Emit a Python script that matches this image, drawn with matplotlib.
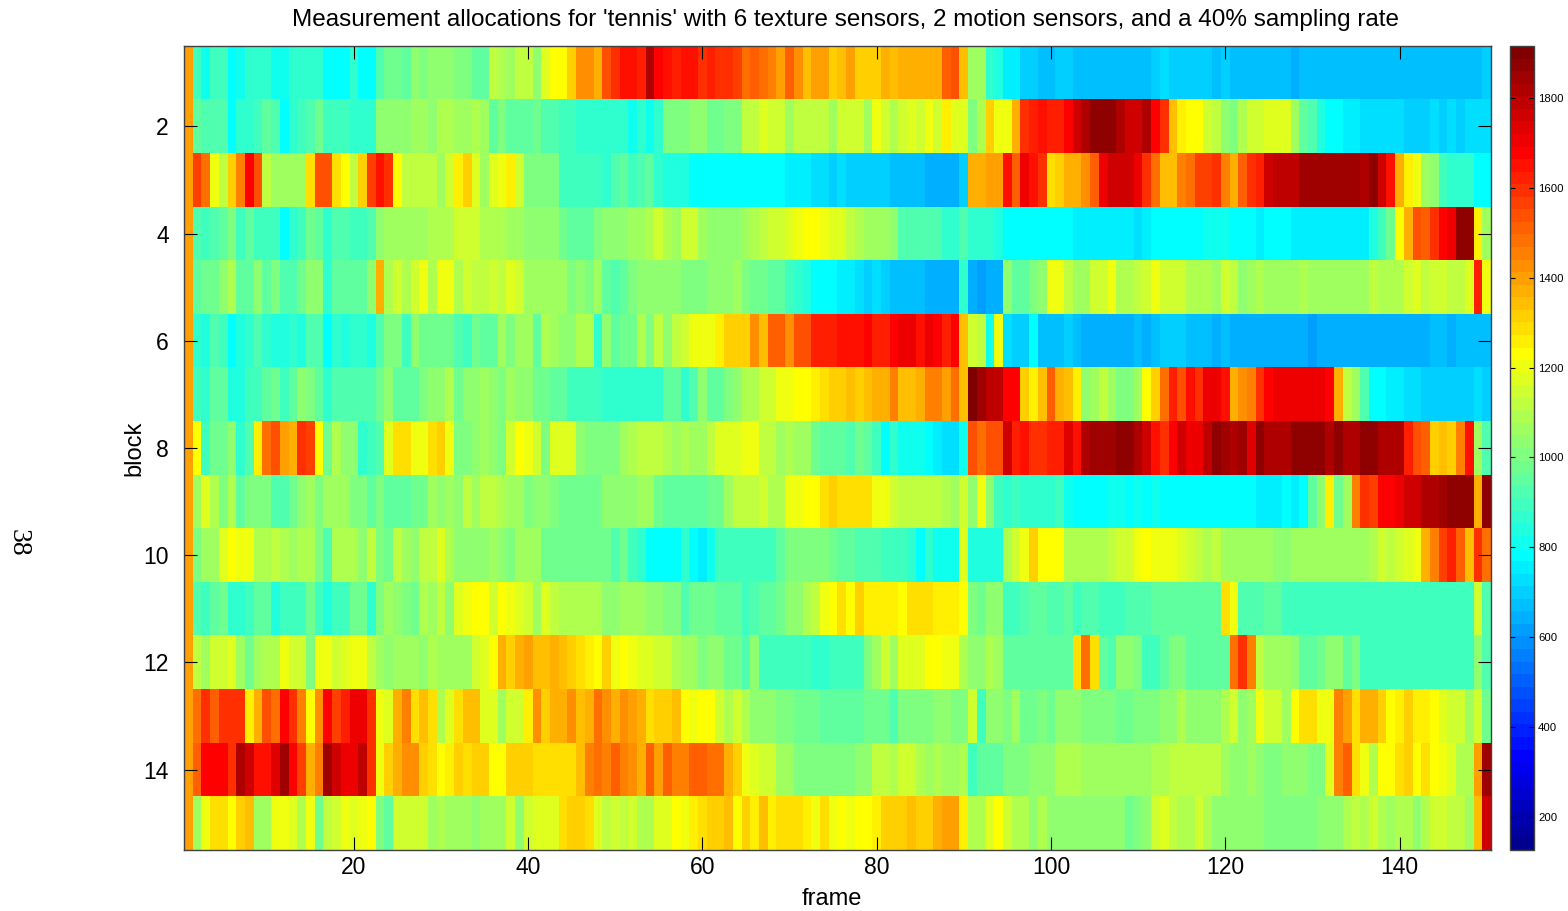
import numpy as np
import matplotlib
matplotlib.use("Agg")
import matplotlib.pyplot as plt
from matplotlib.colors import ListedColormap

plt.rcParams["font.family"] = ["Liberation Sans", "DejaVu Sans"]

block_01 = [1486,900,810,900,900,790,810,860,860,860,
            820,820,860,860,880,880,790,800,800,860,
            790,790,950,990,1000,980,1060,1010,1040,1040,
            1040,1020,1020,970,980,1170,1130,1080,1160,1160,
            1060,1230,1300,1300,1380,1510,1510,1480,1650,1720,
            1760,1760,1730,1860,1790,1760,1740,1760,1760,1720,
            1750,1720,1700,1680,1580,1620,1580,1530,1500,1610,
            1510,1430,1500,1500,1400,1430,1500,1390,1370,1370,
            1460,1430,1460,1460,1480,1480,1480,1590,1640,1440,
            1110,1110,860,830,760,760,720,720,690,690,
            700,700,670,670,670,670,670,670,670,670,
            670,700,730,710,710,710,710,710,680,700,
            670,670,670,670,670,670,670,650,670,670,
            670,670,670,670,670,670,670,670,670,670,
            670,670,670,670,670,670,670,670,670,710]
block_02 = [1486,980,930,950,950,800,880,880,920,960,
            930,800,880,920,950,1000,900,900,900,880,
            880,880,1060,1060,1060,1060,1100,1100,1070,1130,
            1130,1100,1090,1120,1080,960,1030,960,960,960,
            1000,950,950,900,900,860,860,860,860,860,
            860,820,860,820,870,1020,1020,1020,1050,1050,
            1000,1000,1020,1020,1160,1170,1230,1190,1190,1110,
            1170,1170,1170,1170,1100,1200,1200,1200,1110,1240,
            1200,1120,1200,1230,1180,1260,1180,1310,1220,1220,
            1010,1130,1370,1250,1250,1480,1720,1730,1760,1740,
            1740,1790,1840,1860,1890,1890,1890,1860,1840,1840,
            1870,1790,1720,1420,1320,1290,1290,1200,1160,1060,
            1030,1120,1190,1190,1230,1230,1230,1100,960,930,
            840,790,790,760,760,740,740,740,740,740,
            710,710,710,730,700,735,700,740,740,740]
block_03 = [1486,1660,1570,1260,1150,1380,1550,1790,1640,1170,
            1100,1080,1100,1100,1340,1630,1630,1350,1290,1150,
            1390,1690,1760,1700,1300,1170,1160,1160,1160,1090,
            1180,1320,1380,1230,1090,1230,1270,1320,1190,1020,
            1020,1020,1020,920,920,920,920,920,880,940,
            960,900,930,970,860,830,830,830,795,795,
            795,795,795,795,780,780,780,780,780,770,
            750,760,740,740,720,730,700,700,700,700,
            700,690,690,670,670,660,660,660,660,720,
            1450,1450,1500,1500,1760,1620,1800,1760,1700,1350,
            1400,1450,1450,1510,1620,1800,1840,1840,1840,1810,
            1700,1560,1410,1430,1550,1570,1670,1690,1720,1530,
            1470,1590,1710,1730,1830,1850,1850,1850,1880,1880,
            1880,1880,1880,1880,1880,1870,1890,1840,1770,1480,
            1320,1250,1090,1060,920,870,870,870,790,790]
block_04 = [1486,950,900,950,980,1010,900,960,900,920,
            920,800,880,900,1000,980,860,940,940,900,
            900,950,1040,1100,1090,1090,1090,1110,1130,1130,
            1130,1180,1180,1180,1130,1140,1120,1080,1080,1040,
            1040,1040,1040,1000,970,970,970,1010,1060,1060,
            1040,1090,1110,1140,1180,1120,1100,1180,1190,1090,
            1040,1040,1040,1070,1100,1130,1160,1200,1200,1210,
            1260,1290,1280,1260,1210,1210,1160,1120,1100,1100,
            1080,1040,950,950,950,950,950,880,880,930,
            860,860,880,830,790,790,790,790,790,790,
            790,790,770,770,770,770,770,770,770,740,
            770,790,800,800,800,800,800,810,820,810,
            790,790,790,770,790,790,790,760,760,760,
            750,750,750,750,750,750,830,900,1000,1290,
            1470,1640,1600,1710,1780,1810,1890,1890,1330,1100]
block_05 = [1486,980,1000,1000,1070,1120,980,980,1040,980,
            1020,930,950,1000,1050,1050,880,960,970,970,
            970,1060,1450,1130,1190,1130,1200,1250,1130,1240,
            1240,1130,1180,1160,1160,1200,1160,1220,1180,1110,
            1110,1110,1110,1110,1010,1060,1010,1100,960,930,
            970,1020,1050,1050,1050,1050,1070,1010,1010,1010,
            1050,1050,1070,1100,1030,990,990,960,960,920,
            880,830,800,780,790,750,750,740,720,730,
            700,670,690,670,670,650,650,650,650,860,
            640,620,640,640,1040,970,970,1010,1070,1250,
            1270,1150,1090,1090,1200,1200,1240,1130,1130,1160,
            1200,1240,1190,1180,1180,1140,1140,1140,1100,1190,
            1160,1060,1090,1120,1110,1110,1080,1080,1120,1090,
            1090,1090,1090,1090,1090,1110,1160,1140,1140,1140,
            1180,1210,1170,1200,1200,1170,1170,1220,1730,1240]
block_06 = [1486,880,850,950,900,790,850,880,930,860,
            830,830,860,840,940,940,790,880,830,880,
            880,840,950,1010,1010,900,1060,1000,1000,1000,
            1000,940,900,1000,960,970,1100,1030,1080,1080,
            970,1130,1090,1040,1040,1120,1120,880,1070,980,
            1000,1000,1120,1010,1170,1050,1150,1200,1240,1240,
            1240,1310,1370,1390,1390,1510,1440,1590,1620,1510,
            1650,1650,1730,1750,1750,1760,1760,1760,1780,1730,
            1750,1790,1800,1800,1760,1810,1780,1730,1780,1430,
            1190,1170,820,1270,740,710,700,790,670,670,
            680,710,680,650,650,650,650,650,650,670,
            650,670,700,700,700,680,680,680,650,670,
            650,650,650,650,650,650,650,650,650,630,
            650,650,650,650,650,650,650,650,650,650,
            650,650,650,670,670,650,670,670,690,690]
block_07 = [1486,910,870,960,960,850,850,920,920,960,
            1000,900,960,1070,1030,960,860,950,930,930,
            930,930,990,1040,980,980,980,1020,1060,1060,
            1130,1000,1070,1070,1100,1050,1030,1080,1050,1050,
            990,990,960,960,920,920,920,920,880,880,
            880,880,860,860,880,960,960,880,930,1070,
            970,970,1030,1060,1130,1130,1180,1200,1250,1250,
            1300,1300,1330,1360,1390,1390,1440,1400,1430,1480,
            1480,1530,1420,1420,1480,1530,1530,1500,1570,1440,
            1915,1880,1850,1850,1790,1790,1370,1310,1430,1590,
            1470,1420,1320,1060,1110,1150,1110,1030,1030,1100,
            1280,1380,1580,1730,1640,1760,1720,1810,1810,1760,
            1480,1510,1540,1700,1780,1810,1810,1810,1810,1810,
            1800,1790,1480,1170,1090,950,790,790,760,760,
            740,740,710,710,710,710,710,710,730,720]
block_08 = [1486,1290,920,1000,1000,1070,880,940,1320,1580,
            1640,1500,1480,1700,1680,1290,1000,1120,1060,1060,
            870,920,940,1230,1340,1340,1260,1240,1350,1390,
            1270,1020,1020,1070,1110,1060,1030,1180,1290,1260,
            1200,1030,1230,1230,1230,1060,1030,1020,1020,1020,
            1090,1120,1150,1150,1150,1130,1100,1120,1090,1090,
            1150,1220,1210,1210,1240,1240,1160,1160,1090,1120,
            1100,1110,990,960,960,960,930,990,970,910,
            790,880,820,805,805,780,760,740,740,820,
            1640,1580,1630,1630,1830,1740,1770,1700,1700,1730,
            1750,1820,1760,1860,1880,1880,1880,1900,1900,1860,
            1830,1770,1720,1790,1830,1810,1810,1850,1900,1880,
            1860,1880,1820,1890,1870,1870,1870,1890,1890,1890,
            1890,1870,1890,1870,1870,1900,1900,1870,1870,1870,
            1740,1640,1590,1370,1420,1380,1550,1770,1090,940]
block_09 = [1486,1090,1210,1130,1030,1120,960,1010,1010,1010,
            940,940,990,1050,1100,1030,1080,1080,1080,1010,
            1010,980,1030,980,960,980,1000,1000,1080,1040,
            1090,1040,1160,1110,1170,1170,1130,1090,1090,1020,
            1060,1060,1030,1000,1000,1000,1000,1000,1050,1050,
            1060,1060,1080,1080,1000,970,970,970,970,970,
            1000,1000,1080,1170,1150,1150,1180,1130,1130,1240,
            1260,1300,1290,1340,1390,1340,1340,1340,1340,1270,
            1270,1190,1160,1160,1160,1160,1160,1130,1090,1200,
            1060,1270,1070,920,880,920,860,860,860,860,
            900,820,800,790,800,800,810,810,800,810,
            800,820,800,800,790,790,790,790,790,780,
            790,790,790,770,770,770,790,770,790,970,
            1060,1310,990,1090,1530,1720,1680,1790,1790,1800,
            1840,1840,1860,1860,1880,1900,1900,1900,1480,1900]
block_10 = [1486,1020,1100,1100,1230,1280,1240,1250,1120,1120,
            1160,1120,1080,1130,1130,1020,950,1120,1130,1130,
            1060,1160,1020,1000,1160,1110,1040,1160,1170,1210,
            1130,1060,1060,1060,1060,1100,1060,1030,1080,1080,
            1080,990,990,990,990,990,990,990,990,930,
            990,900,870,780,780,780,780,860,790,770,
            820,890,890,920,920,890,920,920,970,1030,
            1030,1030,1030,1030,1000,970,970,950,950,950,
            910,910,910,880,800,870,810,810,810,1220,
            850,850,850,850,1130,1180,1250,1370,1290,1290,
            1290,1140,1120,1120,1120,1120,1150,1180,1180,1260,
            1290,1270,1250,1250,1210,1190,1160,1130,1150,1090,
            1090,1090,1090,1090,1090,1050,1050,1080,1080,1080,
            1080,1080,1080,1080,1080,1110,1140,1180,1170,1200,
            1230,1260,1470,1530,1680,1740,1590,1420,1700,1570]
block_11 = [1486,940,910,960,1000,870,870,900,970,970,
            840,890,910,910,1000,920,850,910,910,1000,
            1000,880,1030,1100,1060,1030,1000,1120,1090,1170,
            1060,1220,1270,1290,1290,1190,1300,1260,1210,1190,
            1100,1210,1170,1130,1120,1120,1120,1120,1070,1070,
            1110,1100,1100,1040,1040,1010,1010,950,1000,1000,
            1000,970,970,970,900,940,960,960,1000,1050,
            1050,1120,1150,1240,1290,1340,1300,1380,1320,1320,
            1320,1320,1290,1360,1360,1360,1310,1310,1310,1290,
            1030,1000,1060,1060,900,900,950,980,980,950,
            930,960,910,950,930,890,890,890,930,930,
            930,970,970,970,970,970,970,970,970,1340,
            1260,930,930,930,970,970,890,890,890,890,
            890,890,890,890,920,920,920,890,890,890,
            920,920,920,920,920,920,920,920,1190,930]
block_12 = [1486,1170,1100,1190,1190,1230,1090,990,1110,1130,
            1130,1270,1200,1200,1020,1270,1270,1180,1210,1260,
            1260,1170,1100,1070,1100,1100,1100,1060,1130,1090,
            1110,1110,1100,1190,1220,1290,1460,1400,1450,1500,
            1430,1430,1470,1410,1380,1340,1310,1290,1370,1260,
            1290,1240,1210,1210,1180,1180,1130,1110,1110,1030,
            1060,1060,1000,1000,950,1040,910,910,910,910,
            920,920,860,860,900,900,900,900,1020,1080,
            1180,1110,1230,1230,1230,1290,1280,1240,1240,1130,
            1060,1040,1130,1110,970,970,970,970,970,970,
            970,970,1360,1580,1360,960,940,1070,1070,1010,
            920,920,970,1010,1010,960,960,960,960,960,
            1560,1720,1530,1170,1090,1090,1090,1040,980,980,
            1000,1040,1040,980,1030,920,920,890,890,890,
            920,920,920,920,920,920,920,920,1070,930]
block_13 = [1486,1580,1720,1620,1720,1720,1720,1330,1480,1640,
            1560,1790,1720,1550,1300,1510,1780,1680,1740,1800,
            1800,1710,1260,1220,1460,1540,1340,1410,1340,1120,
            1210,1360,1420,1420,1230,1210,1110,1190,1190,1320,
            1510,1380,1460,1460,1520,1410,1480,1570,1520,1480,
            1510,1490,1470,1340,1370,1370,1420,1290,1250,1300,
            1280,1180,1130,1180,1120,1070,1070,1070,1010,1010,
            990,990,990,960,980,980,980,960,990,1000,
            990,950,1010,1010,1030,1010,1040,1040,1020,1020,
            1190,920,1040,1040,1010,1100,990,990,1030,990,
            1040,1040,1040,1010,1010,1020,1020,1000,1000,1030,
            1030,1030,1050,1050,1120,1040,1070,1070,1070,1140,
            1180,1070,1110,1240,1180,1180,1080,1290,1360,1360,
            1260,1260,1530,1500,1340,1470,1470,1400,1290,1320,
            1390,1310,1310,1290,1220,1180,1180,1090,1180,1000]
block_14 = [1486,1620,1790,1790,1790,1720,1860,1830,1760,1760,
            1820,1880,1790,1660,1470,1530,1880,1830,1800,1800,
            1850,1720,1260,1390,1480,1510,1520,1400,1340,1290,
            1310,1390,1340,1370,1370,1280,1300,1390,1400,1400,
            1340,1340,1340,1340,1340,1430,1530,1560,1530,1610,
            1530,1520,1480,1590,1500,1590,1540,1540,1590,1590,
            1560,1570,1470,1380,1260,1230,1180,1180,1100,1100,
            1030,1030,1030,1010,1010,1010,1030,1070,1070,1160,
            1160,1120,1180,1180,1130,1100,1140,1100,1100,1120,
            920,960,970,970,1030,1030,1030,1060,1060,1060,
            1140,1140,1140,1080,1080,1110,1090,1090,1090,1090,
            1090,1120,1120,1150,1150,1150,1150,1150,1150,1100,
            1060,1060,1100,1040,1020,1020,1070,1070,1070,1020,
            1010,1210,1540,1590,1340,1240,1130,1290,1290,1340,
            1380,1290,1350,1300,1270,1220,1140,1140,1490,1880]
block_15 = [1486,1080,1270,1340,1350,1290,1380,1410,1090,1090,
            1240,1240,1230,1130,1260,990,1170,1200,1270,1220,
            1250,1300,1010,980,1180,1180,1180,1180,1110,1130,
            1110,1090,1090,1040,1090,1090,1090,1180,1060,1200,
            1220,1220,1220,1340,1400,1400,1350,1210,1170,1190,
            1150,1190,1120,1120,1220,1220,1290,1240,1330,1360,
            1380,1380,1420,1290,1380,1310,1420,1310,1350,1350,
            1350,1320,1270,1340,1240,1280,1240,1290,1290,1310,
            1400,1370,1400,1420,1400,1370,1470,1490,1500,1310,
            1140,1140,1230,1300,1180,1130,1130,1060,1120,1070,
            1070,1070,1040,1040,1040,1040,1040,1040,990,1020,
            1070,1180,1220,1170,1140,1140,1190,1130,1070,1070,
            1050,1050,1050,1050,1020,1020,1020,1020,1020,1020,
            1050,1050,1050,1130,1170,1120,1180,1140,1090,1120,
            1120,1060,1120,1190,1190,1160,1160,1100,1410,1830]

# the cells were read against a first guess of the colour scale, this corrects them
scale_read = [126,790,860,931,1021,1093,1164,1218,1290,1379,1486,1540,1630,1719,1790,1844,1880,1916]
scale_true = [118,783,859,913,1007,1063,1119,1175,1231,1311,1387,1455,1530,1600,1680,1780,1846,1902]

x_ticks = [20, 40, 60, 80, 100, 120, 140]
y_ticks = [2, 4, 6, 8, 10, 12, 14]
cbar_ticks = [200, 400, 600, 800, 1000, 1200, 1400, 1600, 1800]
VMIN, VMAX = 126, 1916
W, H = 1568, 911
EDGE = "#404040"

title = "Measurement allocations for 'tennis' with 6 texture sensors, 2 motion sensors, and a 40% sampling rate"

data = np.array([block_01, block_02, block_03, block_04, block_05,
                 block_06, block_07, block_08, block_09, block_10,
                 block_11, block_12, block_13, block_14, block_15])
data = np.interp(data, scale_read, scale_true)


def px_rect(left, top, right, bottom):
    return [left / W, 1 - bottom / H, (right - left) / W, (bottom - top) / H]


def matlab_jet():
    i = np.arange(1, 65)
    r = np.clip(np.minimum((i - 24) / 16, (72 - i) / 16), 0, 1)
    g = np.clip(np.minimum((i - 8) / 16, (56 - i) / 16), 0, 1)
    b = np.clip(np.minimum((i + 8) / 16, (40 - i) / 16), 0, 1)
    return ListedColormap(np.column_stack([r, g, b]))


fig = plt.figure(figsize=(W / 100, H / 100), dpi=100)
ax = fig.add_axes(px_rect(184, 46, 1491, 850))
cax = fig.add_axes(px_rect(1510, 46, 1534, 850))

im = ax.imshow(data, cmap=matlab_jet(), vmin=VMIN, vmax=VMAX, aspect="auto",
               interpolation="nearest", extent=[0.5, 150.5, 15.5, 0.5])

ax.set_xticks(x_ticks)
ax.set_yticks(y_ticks)
ax.tick_params(direction="in", top=True, right=True, length=9.4, width=0.8,
               labelsize=16.5, color="black")
ax.tick_params(axis="y", pad=11)
ax.tick_params(axis="x", pad=4)
ax.set_xlabel("frame", fontsize=17, va="center")
ax.xaxis.set_label_coords((832 - 184) / 1307, -(899 - 850) / 804)
ax.set_ylabel("block", fontsize=17, va="center")
ax.yaxis.set_label_coords(-(184 - 134) / 1307, (850 - 448) / 804)
ax.set_title(title, fontsize=17.5, x=(845.5 - 184) / 1307, y=(850 - 20) / 804,
             va="center", pad=0)

cb = fig.colorbar(im, cax=cax)
cb.set_ticks(cbar_ticks)
cax.tick_params(direction="in", left=True, right=True, length=3.5, width=0.8,
                labelsize=8.2, pad=3)
for spine in ax.spines.values():
    spine.set_linewidth(1)
    spine.set_edgecolor(EDGE)
cb.outline.set_linewidth(1)
cb.outline.set_edgecolor(EDGE)

# page number from the source document
fig.text(18 / W, 1 - 543 / H, "38", rotation=270, ha="center", va="center",
         fontsize=20, family=["Liberation Serif", "DejaVu Serif"])

fig.savefig("out.png", dpi=100)
